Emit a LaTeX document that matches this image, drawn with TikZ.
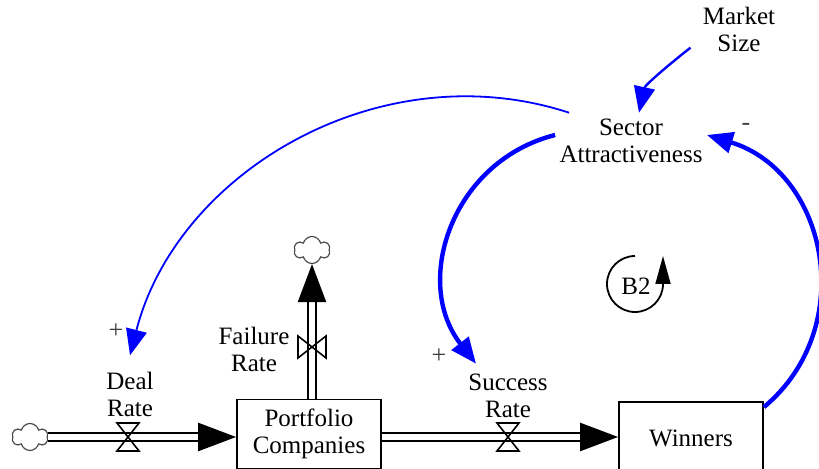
\documentclass[tikz,border=0pt]{standalone}
\usepackage{fontspec}
\setmainfont{Liberation Serif}
\usetikzlibrary{arrows.meta,shapes.symbols}
\tikzset{
  stock/.style  ={draw, minimum width=72pt, minimum height=34.5pt,
                  inner sep=2pt, line width=0.9pt, align=center},
  varlbl/.style ={align=center, inner sep=2pt},
  src/.style    ={draw=black!70, cloud, cloud puffs=6, aspect=1.3,
                  minimum width=18pt, minimum height=13.5pt, inner sep=0pt,
                  line width=0.6pt},
  pipe/.style   ={double, double distance=3pt, line width=1.2pt,
                  -{Triangle[length=19pt, width=14pt]}},
  link/.style   ={-{Triangle[length=13pt, width=10.5pt]}, line width=0.9pt,
                  blue},
  linkB/.style  ={-{Triangle[length=13pt, width=10.5pt]}, line width=2.2pt,
                  blue},
  pol/.style    ={font=\fontsize{13}{13}\selectfont, text=black!75},
  loopar/.style ={-{Triangle[length=14pt, width=7.5pt]}, line width=0.9pt},
  valve/.pic    ={\draw[line width=0.8pt] (-5.5pt,-7pt) -- (5.5pt,-7pt)
                  -- (-5.5pt,7pt) -- (5.5pt,7pt) -- cycle;},
}

\begin{document}
\begin{tikzpicture}[x=0.5pt, y=-0.5pt, font=\fontsize{12.5}{13.5}\selectfont]
  \useasboundingbox (0,0) rectangle (819,469);
  % stocks and sources
  \node[stock] (pc) at (309,434) {Portfolio\\Companies};
  \node[stock, minimum height=36pt] (win) at (691,438) {Winners};
  \node[src] (cl) at (30,437) {};
  \node[src] (ct) at (312,250) {};
  % flows
  \draw[pipe] (cl.east) -- (pc.west |- cl.east);
  \draw[pipe] (pc.east |- cl.east) -- (win.west |- cl.east);
  \draw[pipe] (ct.south |- pc.north) -- (ct.south);
  \pic at (128,437) {valve};
  \pic[rotate=90] at (312,347) {valve};
  \pic at (508,437) {valve};
  \node[varlbl] (dr) at (130,394) {Deal\\Rate};
  \node[varlbl] (fr) at (254,349) {Failure\\Rate};
  \node[varlbl] (sr) at (508,396) {Success\\Rate};
  % auxiliaries
  \node[varlbl] (ms) at (739,29) {Market\\Size};
  \node[varlbl] (sa) at (631,141) {Sector\\Attractiveness};
  % links
  \draw[link, line width=1.2pt] ([xshift=-4pt, yshift=4pt]ms.south west)
    .. controls (672,62) and (645,85) .. ([xshift=4pt, yshift=1pt]sa.north);
  \draw[link] ([xshift=7pt, yshift=1pt]sa.north west)
    .. controls (380,51) and (177,172) .. ([yshift=6pt]dr.north);
  \draw[linkB] ([yshift=3pt]sa.west)
    .. controls (452,161) and (412,282) .. ([xshift=6pt, yshift=3pt]sr.north west);
  \draw[linkB] ([yshift=-3pt]win.north east)
    .. controls (859,328) and (828,172) .. ([yshift=3pt]sa.east);
  \node[pol] (p1) at (116,331) {+};
  \node[pol] (p2) at (439,356) {+};
  \node[pol] (p3) at (746,127) {-};
  % loop marker
  \node (b2) at (636,286) {B2};
  \draw[loopar] (b2.center) ++(-1,-30) arc[start angle=-90, end angle=-360, radius=28]
    -- ++(0,-28);
\end{tikzpicture}
\end{document}
